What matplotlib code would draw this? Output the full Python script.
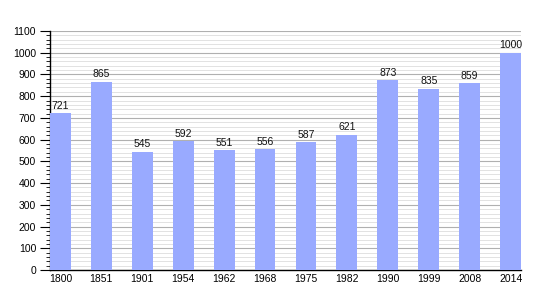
import matplotlib
matplotlib.use("Agg")
import matplotlib.pyplot as plt
from matplotlib.ticker import MultipleLocator

years = ["1800", "1851", "1901", "1954", "1962", "1968", "1975", "1982", "1990", "1999", "2008", "2014"]
population = [721, 865, 545, 592, 551, 556, 587, 621, 873, 835, 859, 1000]

plt.rcParams['font.family'] = ['Liberation Sans', 'DejaVu Sans']
fig = plt.figure(figsize=(5.5, 3.0), dpi=100)
ax = fig.add_axes([50/550, 30/300, 471/550, 239/300])

width = 0.51
x = list(range(len(years)))
ax.bar(x, population, width=width, align='edge', color='#99aaff', zorder=3)
for xi, v in zip(x, population):
    ax.text(xi + width/2, v + 12, str(v), ha='center', va='bottom', fontsize=7.5, color='#111111', zorder=4)

ax.set_xlim(0, len(years) - 1 + width)
ax.set_ylim(0, 1100)
ax.set_xticks([xi + width/2 for xi in x])
ax.set_xticklabels(years)
ax.yaxis.set_major_locator(MultipleLocator(100))
ax.yaxis.set_minor_locator(MultipleLocator(20))
ax.grid(which='major', axis='y', color='#b0b0b0', linewidth=0.8, zorder=0)
ax.grid(which='minor', axis='y', color='#dddddd', linewidth=0.6, zorder=0)
for s in ['top', 'right']:
    ax.spines[s].set_visible(False)
ax.spines['left'].set_linewidth(1.0)
ax.spines['bottom'].set_linewidth(1.0)
ax.tick_params(axis='x', length=0, labelsize=7.5, pad=3)
ax.tick_params(axis='y', which='major', length=7, labelsize=7.5, pad=3)
ax.tick_params(axis='y', which='minor', length=3)

fig.savefig("out.png", dpi=100)
